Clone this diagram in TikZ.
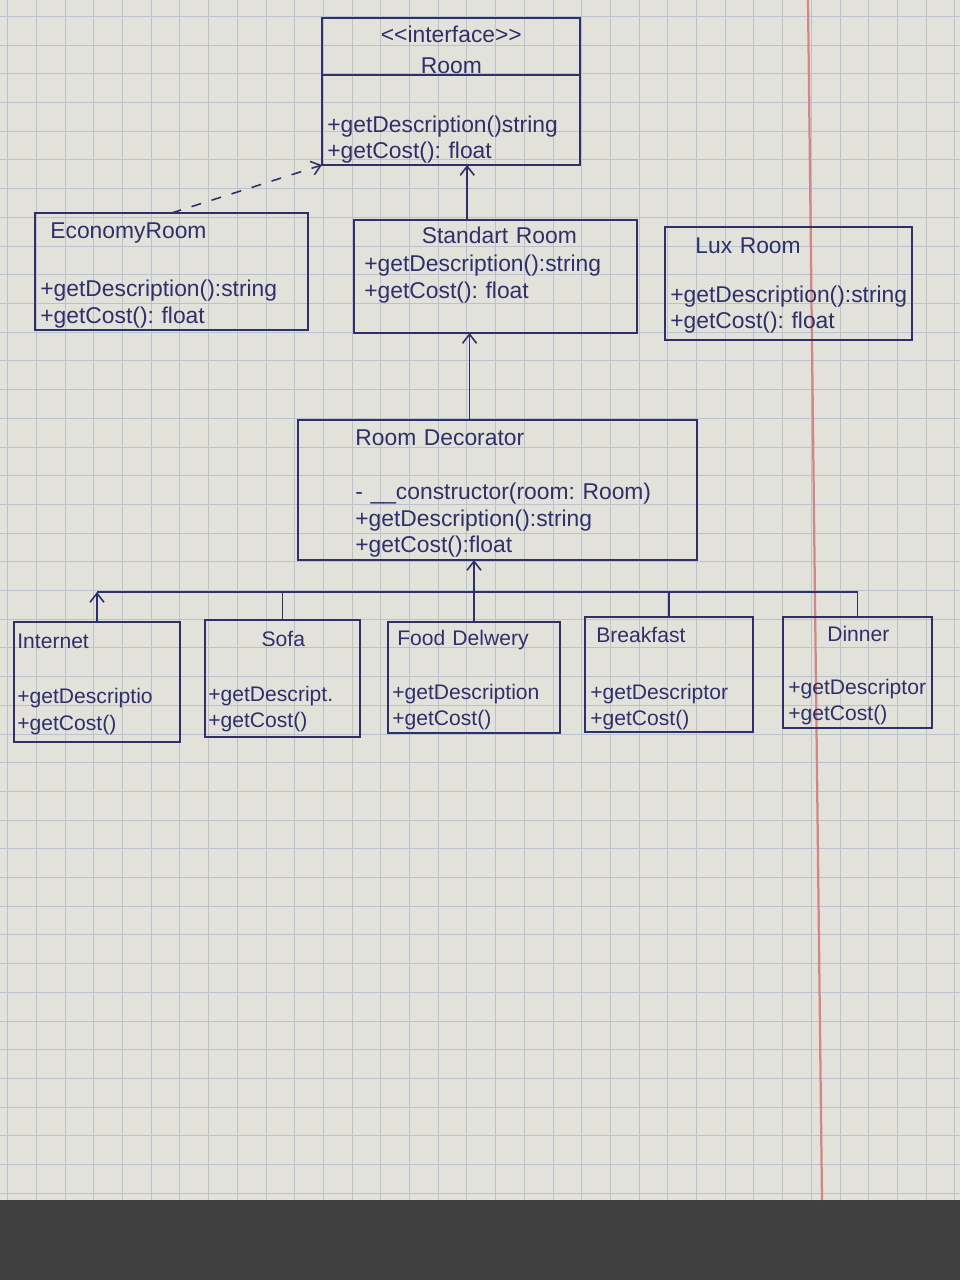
\documentclass[tikz,border=0pt]{standalone}
\usepackage{fontspec}
\setmainfont{Liberation Sans}
\usepackage{xcolor}
\usetikzlibrary{arrows.meta, calc}

\definecolor{ink}{HTML}{2F2F6B}
\definecolor{paper}{HTML}{E3E2DA}
\definecolor{gridc}{HTML}{BAC3CB}
\definecolor{margin}{HTML}{D48686}

\newcommand{\midline}[1]{\hfill#1\hfill\null}
\frenchspacing

\begin{document}
\begin{tikzpicture}[
    x=0.2mm, y=-0.2mm,
    umlbox/.style={rectangle, draw=ink, line width=0.9pt, inner sep=0pt, outer sep=0pt},
    members/.style={anchor=north west, inner sep=0pt, align=left, text=ink, font=\fontsize{13}{15}\selectfont},
    leaf/.style={members, font=\fontsize{12}{15}\selectfont},
    arrow/.style={-{Straight Barb[length=1.8mm, width=2.8mm]}, line width=0.9pt, draw=ink},
    realize/.style={arrow, dash pattern=on 2mm off 2.2mm},
    link/.style={line width=0.9pt, draw=ink}
]
    \useasboundingbox (0,0) rectangle (960,1280);

    % Notebook page
    \fill[paper] (0,0) rectangle (960,1200);
    \fill[black!75] (0,1200) rectangle (960,1280);
    \foreach \gx in {7.6,36.3,...,960} \draw[gridc, line width=0.35pt] (\gx,0) -- (\gx,1200);
    \foreach \gy in {16.3,45,...,1200} \draw[gridc, line width=0.35pt] (0,\gy) -- (960,\gy);
    \draw[margin, line width=0.45mm] (808,0) -- (822,1200);

    % Interface
    \node[umlbox, minimum width=51.6mm, minimum height=29.4mm] (room) at (451,91.5) {};
    \draw[link] ($(room.north west)+(0,57)$) -- ($(room.north east)+(0,57)$);
    \node[members, text width=49.6mm] (roomtext) at (327,26) {\midline{<{}<interface>{}>}\\[0.9mm]\midline{Room}\\[6.5mm]+getDescription()string\\+getCost(): float};

    % Concrete rooms
    \node[umlbox, minimum width=54.6mm, minimum height=23.4mm] (econ) at (171.5,271.5) {};
    \node[members, text width=52mm] (econtext) at (40,222) {\hspace*{2mm}EconomyRoom\\[6.5mm]+getDescription():string\\+getCost(): float};

    \node[umlbox, minimum width=56.6mm, minimum height=22.6mm] (std) at (495.5,276.5) {};
    \node[members, text width=54mm] (stdtext) at (364,227) {\midline{Standart Room}\\[0.3mm]+getDescription():string\\+getCost(): float};

    \node[umlbox, minimum width=49.4mm, minimum height=22.6mm] (lux) at (788.5,283.5) {};
    \node[members, text width=48mm] (luxtext) at (670,237) {\hspace*{5mm}Lux Room\\[4.6mm]+getDescription():string\\+getCost(): float};

    % Decorator
    \node[umlbox, minimum width=79.8mm, minimum height=28mm] (dec) at (497.5,490) {};
    \node[members, text width=68mm] (dectext) at (355,429) {Room Decorator\\[5.7mm]- \_\_constructor(room: Room)\\+getDescription():string\\+getCost():float};

    % Concrete decorators
    \node[umlbox, minimum width=33.2mm, minimum height=24mm] (inet) at (97,682) {};
    \node[leaf, text width=32mm] (inettext) at (17,634) {Internet\\[5.7mm]+getDescriptio\\+getCost()};

    \node[umlbox, minimum width=31mm, minimum height=23.4mm] (sofa) at (282.5,678.5) {};
    \node[leaf, text width=30mm] (sofatext) at (208,631) {\midline{Sofa}\\[5.7mm]+getDescript.\\+getCost()};

    \node[umlbox, minimum width=34.4mm, minimum height=22.2mm] (food) at (474,677.5) {};
    \node[leaf, text width=33mm] (foodtext) at (392,630) {\hspace*{1mm}Food Delwery\\[5.5mm]+getDescription\\+getCost()};

    \node[umlbox, minimum width=33.6mm, minimum height=23mm] (bfast) at (669,674.5) {};
    \node[leaf, text width=32mm] (bfasttext) at (590,627) {\hspace*{1.2mm}Breakfast\\[6.1mm]+getDescriptor\\+getCost()};

    \node[umlbox, minimum width=29.8mm, minimum height=22.2mm] (dinner) at (857.5,672.5) {};
    \node[leaf, text width=28mm] (dinnertext) at (788,626) {\midline{Dinner}\\[5.3mm]+getDescriptor\\+getCost()};

    % Connections
    \coordinate (stdtop) at ($(std.north west)!0.4!(std.north east)$);
    \draw[arrow] (stdtop) -- (stdtop |- room.south);
    \coordinate (dectop) at ($(dec.north west)!0.43!(dec.north east)$);
    \draw[arrow] (dectop) -- (dectop |- std.south);
    \draw[realize] (econ.north) -- (room.south west);
    \coordinate (bus) at ($(dec.south)+(0,32)$);
    \draw[link] (inet.north |- bus) -- (dinner.north |- bus);
    \foreach \part in {sofa, bfast, dinner} \draw[link] (\part.north) -- (\part.north |- bus);
    \draw[arrow] (inet.north) -- (inet.north |- bus);
    \draw[arrow] (food.north) -- (food.north |- dec.south);
\end{tikzpicture}
\end{document}
